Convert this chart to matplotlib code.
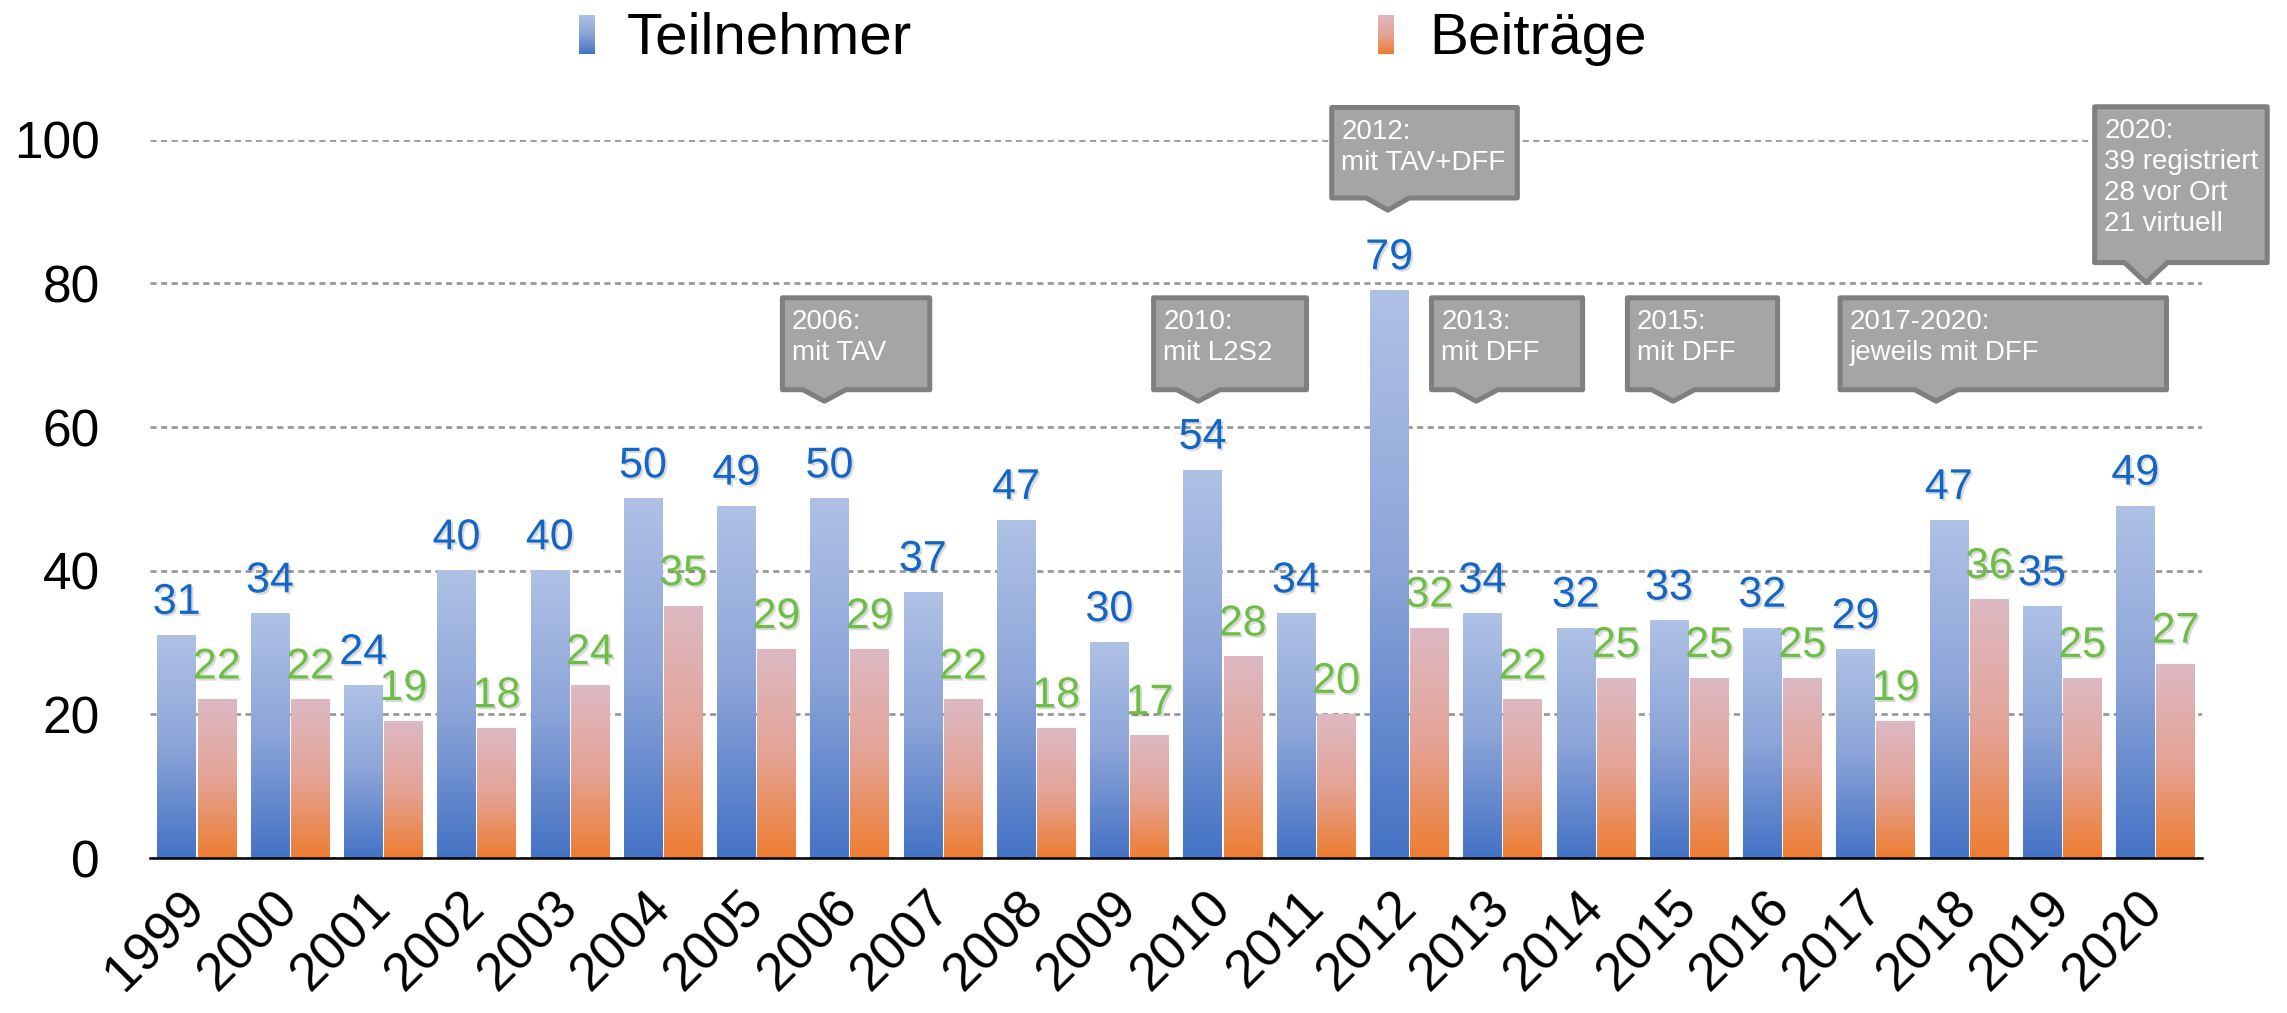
import numpy as np
import matplotlib
matplotlib.use("Agg")
import matplotlib.pyplot as plt
from matplotlib.colors import LinearSegmentedColormap
from matplotlib.patches import Polygon
import matplotlib.patheffects as pe

plt.rcParams['font.family'] = ['Liberation Sans', 'DejaVu Sans']

# data
years = ["1999", "2000", "2001", "2002", "2003", "2004", "2005", "2006", "2007", "2008", "2009",
         "2010", "2011", "2012", "2013", "2014", "2015", "2016", "2017", "2018", "2019", "2020"]
teilnehmer = [31, 34, 24, 40, 40, 50, 49, 50, 37, 47, 30, 54, 34, 79, 34, 32, 33, 32, 29, 47, 35, 49]
beitraege = [22, 22, 19, 18, 24, 35, 29, 29, 22, 18, 17, 28, 20, 32, 22, 25, 25, 25, 19, 36, 25, 27]
yticks = [0, 20, 40, 60, 80, 100]

# callouts: text, box left/right, box top/bottom, tip x/y (data coords)
callouts = [
    ("2006:\nmit TAV", 6.28, 7.86, 78.0, 65.2, 6.73, 63.6),
    ("2010:\nmit L2S2", 10.26, 11.90, 78.0, 65.2, 10.74, 63.6),
    ("2012:\nmit TAV+DFF", 12.17, 14.16, 104.5, 91.9, 12.77, 90.2),
    ("2013:\nmit DFF", 13.24, 14.86, 78.0, 65.2, 13.72, 63.6),
    ("2015:\nmit DFF", 15.34, 16.95, 78.0, 65.2, 15.83, 63.6),
    ("2017-2020:\njeweils mit DFF", 17.62, 21.12, 78.0, 65.2, 18.65, 63.6),
    ("2020:\n39 registriert\n28 vor Ort\n21 virtuell", 20.35, 22.2, 104.6, 82.9, 20.9, 80.1),
]

blue_cmap = LinearSegmentedColormap.from_list("blue", ["#4472C4", "#8CA4D8", "#AFC1E5"])
pink_cmap = LinearSegmentedColormap.from_list("pink", ["#ED7D31", "#E4A396", "#DDB9C3"])
grad = np.linspace(0, 1, 256).reshape(-1, 1)

fig = plt.figure(figsize=(22.87, 10.13), dpi=100)
ax = fig.add_axes([0.0656, 0.153, 0.8972, 0.709])

x = np.arange(len(years))
w = 0.41
off = 0.215
bars_t = ax.bar(x - off, teilnehmer, w, color="none")
bars_b = ax.bar(x + off, beitraege, w, color="none")

def fill_gradient(bars, cmap):
    for b in bars:
        x0, y0 = b.get_xy()
        ax.imshow(grad, extent=[x0, x0 + b.get_width(), y0, y0 + b.get_height()],
                  origin="lower", aspect="auto", cmap=cmap, zorder=2)

fill_gradient(bars_t, blue_cmap)
fill_gradient(bars_b, pink_cmap)

shadow = [pe.withSimplePatchShadow(offset=(1.5, -1.5), shadow_rgbFace="black", alpha=0.15)]
for xi, v in zip(x, teilnehmer):
    ax.annotate(str(v), (xi - off, v), xytext=(0, 9), textcoords="offset points",
                ha="center", va="bottom", fontsize=31, color="#1366C6", zorder=5, path_effects=shadow)
for xi, v in zip(x, beitraege):
    ax.annotate(str(v), (xi + off, v), xytext=(0, 9), textcoords="offset points",
                ha="center", va="bottom", fontsize=31, color="#6DBE45", zorder=5, path_effects=shadow)

# callout boxes
for txt, x0, x1, yt, yb, tx, ty in callouts:
    hw = 0.23
    pts = [(x0, yt), (x1, yt), (x1, yb), (tx + hw, yb), (tx, ty), (tx - hw, yb), (x0, yb)]
    ax.add_patch(Polygon(pts, closed=True, facecolor="#A5A5A5", edgecolor="#7F7F7F",
                         linewidth=3.6, joinstyle="round", clip_on=False, zorder=6))
    ax.annotate(txt, (x0, yt), xytext=(7, -8), textcoords="offset points", ha="left", va="top",
                fontsize=20, color="white", linespacing=1.25, zorder=7, annotation_clip=False)

ax.set_xlim(-0.5, len(years) - 0.5)
ax.set_ylim(0, 100)
ax.set_yticks(yticks)
ax.set_yticklabels([str(t) for t in yticks], fontsize=37)
ax.set_xticks(x)
ax.set_xticklabels(years, fontsize=38, rotation=45, ha="right", va="center", rotation_mode="anchor")
ax.tick_params(axis="both", length=0)
ax.tick_params(axis="y", pad=36)
ax.tick_params(axis="x", pad=30)
ax.yaxis.grid(True, color="#999999", linestyle=(0, (2.2, 1.6)), linewidth=2.0, zorder=0)
ax.set_axisbelow(True)
for s in ["left", "right", "top"]:
    ax.spines[s].set_visible(False)
ax.spines["bottom"].set_linewidth(1.8)
ax.spines["bottom"].set_color("black")
ax.spines["bottom"].set_zorder(4)

# legend drawn by hand with gradient squares
for left, cmap, label, tx in [(0.2532, blue_cmap, "Teilnehmer", 0.274),
                              (0.6025, pink_cmap, "Beiträge", 0.6248)]:
    lax = fig.add_axes([left, 0.9467, 0.0066, 0.0385])
    lax.imshow(grad, origin="lower", aspect="auto", cmap=cmap)
    lax.axis("off")
    fig.text(tx, 0.9467, label, fontsize=42, ha="left", va="baseline")

fig.savefig("out.png", dpi=100)
